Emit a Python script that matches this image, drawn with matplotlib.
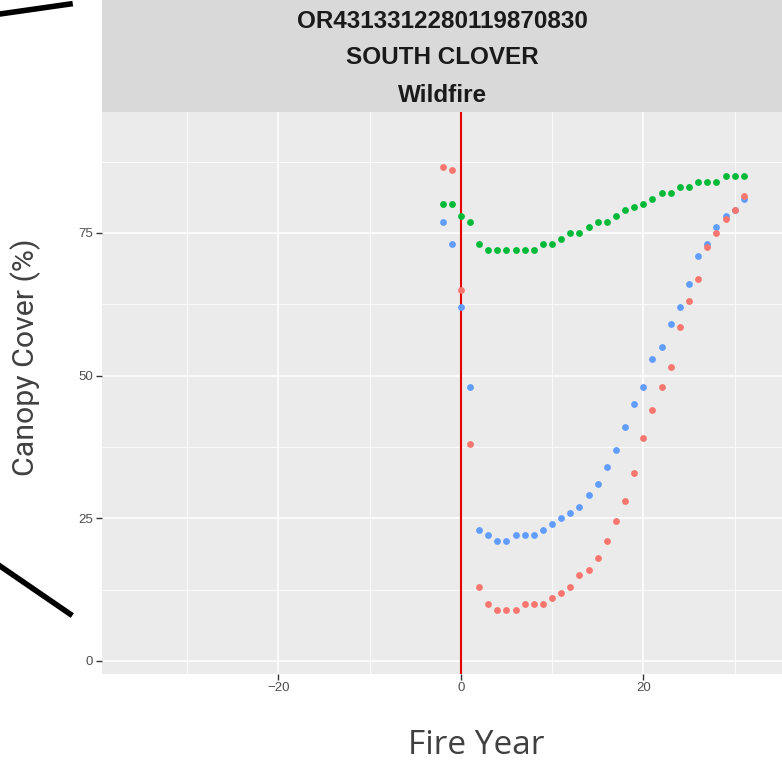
import matplotlib
matplotlib.use("Agg")
import matplotlib.pyplot as plt
from matplotlib.lines import Line2D
import numpy as np

years = list(range(-2, 32))
red_vals = [86.5, 86.0, 65.0, 38.0, 13.0, 10.0, 9.0, 9.0, 9.0, 10.0, 10.0, 10.0, 11.0, 12.0,
            13.0, 15.0, 16.0, 18.0, 21.0, 24.5, 28.0, 33.0, 39.0, 44.0, 48.0, 51.5, 58.5,
            63.0, 67.0, 72.5, 75.0, 77.5, 79.0, 81.5]
green_vals = [80, 80, 78, 77, 73, 72, 72, 72, 72, 72, 72, 73, 73, 74, 75, 75, 76, 77, 77, 78,
              79, 79.5, 80, 81, 82, 82, 83, 83, 84, 84, 84, 85, 85, 85]
blue_vals = [77, 73, 62, 48, 23, 22, 21, 21, 22, 22, 22, 23, 24, 25, 26, 27, 29, 31, 34, 37,
             41, 45, 48, 53, 55, 59, 62, 66, 71, 73, 76, 78, 79, 81]

x_ticks = [-20, 0, 20]
y_ticks = [0, 25, 50, 75]
strip_lines = ["OR4313312280119870830", "SOUTH CLOVER", "Wildfire"]
fire_year = 0

W, H = 782, 764
fig = plt.figure(figsize=(W / 100, H / 100), dpi=100)
fig.patch.set_facecolor("white")

# panel
left, right, top, bottom = 101.7, 783, 112, 674
ax = fig.add_axes([left / W, 1 - bottom / H, (right - left) / W, (bottom - top) / H])
ax.set_facecolor("#EBEBEB")
for s in ax.spines.values():
    s.set_visible(False)
ax.set_xlim(-39.35, 35.3)
ax.set_ylim(-2.28, 96.2)

ax.set_xticks(x_ticks)
ax.set_xticklabels(["\u221220", "0", "20"])
ax.set_yticks(y_ticks)
ax.set_xticks([-30, -10, 10, 30], minor=True)
ax.set_yticks([12.5, 37.5, 62.5, 87.5], minor=True)
ax.grid(which="major", color="white", lw=1.1)
ax.grid(which="minor", color="white", lw=0.55)
ax.set_axisbelow(True)
ax.tick_params(which="major", length=4, width=1.0, color="#333333",
               labelcolor="#4D4D4D", labelsize=9.5, pad=2)
ax.tick_params(which="minor", length=0)
for lab in ax.get_xticklabels() + ax.get_yticklabels():
    lab.set_family("Liberation Sans")

ms = 4.9
ax.plot(years, blue_vals, "o", color="#619CFF", ms=ms, mec="none", zorder=3)
ax.plot(years, green_vals, "o", color="#00BA38", ms=ms, mec="none", zorder=3)
ax.plot(years, red_vals, "o", color="#F8766D", ms=ms, mec="none", zorder=3)
ax.axvline(fire_year, color="#E80000", lw=1.5, zorder=2)

# strip
sax = fig.add_axes([left / W, 1 - top / H, (right - left) / W, top / H])
sax.set_facecolor("#D9D9D9")
sax.set_xticks([]); sax.set_yticks([])
for s in sax.spines.values():
    s.set_visible(False)
for txt, yy in zip(strip_lines, [27.5, 64.5, 101.5]):
    sax.text(0.5, 1 - yy / top, txt, ha="center", va="baseline", fontsize=17.5,
             fontweight="bold", color="#1A1A1A", family="Liberation Sans",
             transform=sax.transAxes)

# slide text
fig.text(26 / W, 1 - 357 / H, "Canopy Cover (%)", rotation=90, ha="center", va="center",
         fontsize=21.8, color="#404040", family="Roboto")
fig.text(476 / W, 1 - 746 / H, "Fire Year", ha="center", va="center",
         fontsize=24, color="#404040", family="Open Sans")

# slide decoration lines
fig.add_artist(Line2D([0, 70 / W], [1 - 14 / H, 1 - 4 / H], color="black", lw=4,
                      transform=fig.transFigure))
fig.add_artist(Line2D([0, 70 / W], [1 - 566 / H, 1 - 614 / H], color="black", lw=4,
                      transform=fig.transFigure))

fig.savefig("out.png", dpi=100)
